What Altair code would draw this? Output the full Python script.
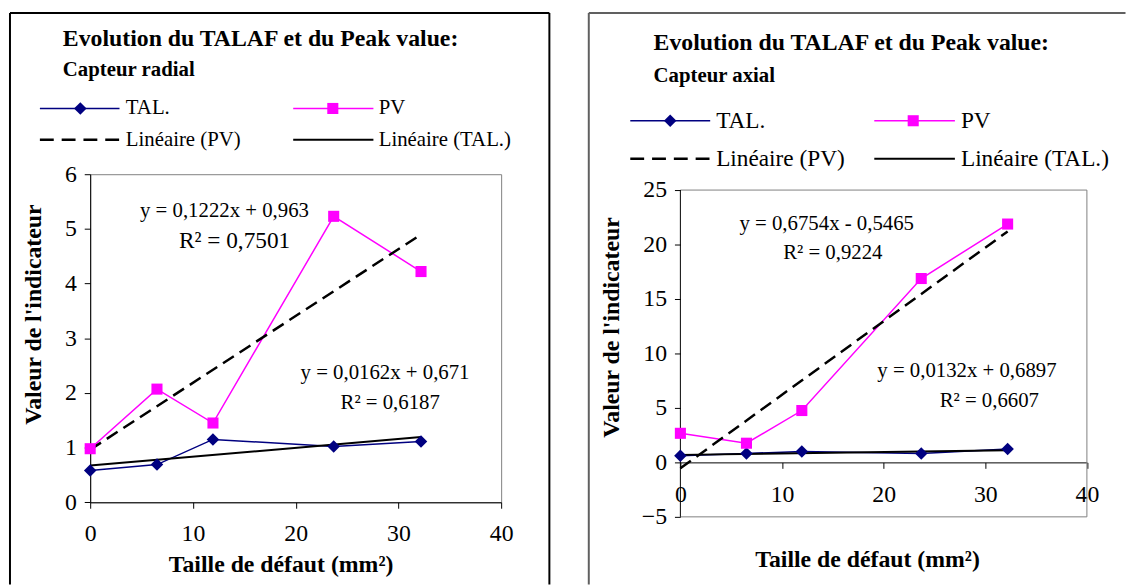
import altair as alt
import pandas as pd

FONT = "Liberation Serif"
NAVY = "#000080"
MAGENTA = "#FF00FF"
GRAY = "#808080"

# ---------------- data ----------------
defect_size = [0, 6.5, 11.95, 23.7, 32.2]

radial_tal = [0.58, 0.69, 1.15, 1.02, 1.11]
radial_pv = [0.98, 2.07, 1.45, 5.23, 4.22]

axial_tal = [0.61, 0.82, 1.00, 0.82, 1.22]
axial_pv = [2.67, 1.76, 4.76, 16.88, 21.88]

trend_x = [0, 32.2]
radial_trend_pv = [0.963, 4.898]
radial_trend_tal = [0.671, 1.193]
axial_trend_pv = [-0.547, 21.20]
axial_trend_tal = [0.690, 1.115]

radial_eq_text = ["y = 0,1222x + 0,963", "R² = 0,7501", "y = 0,0162x + 0,671", "R² = 0,6187"]
radial_eq_x = [13.07, 14.05, 28.7, 29.2]
radial_eq_y = [5.32, 4.78, 2.36, 1.82]

axial_eq_text = ["y = 0,6754x - 0,5465", "R² = 0,9224", "y = 0,0132x + 0,6897", "R² = 0,6607"]
axial_eq_x = [14.4, 15.0, 28.2, 30.4]
axial_eq_y = [21.9, 19.25, 8.4, 5.67]

x_ticks = [0, 10, 20, 30, 40]
radial_y_ticks = [0, 1, 2, 3, 4, 5, 6]
axial_y_ticks = [-5, 0, 5, 10, 15, 20, 25]

TITLE = "Evolution du TALAF et du Peak value:"
dummy = pd.DataFrame({"k": [0]})


def txt(s, x, y, size, bold=False, align="left", baseline="alphabetic"):
    return alt.Chart(dummy).mark_text(
        text=s, font=FONT, fontSize=size, fontWeight="bold" if bold else "normal",
        align=align, baseline=baseline, color="black"
    ).encode(x=alt.value(x), y=alt.value(y))


def hline(x1, x2, y, **kw):
    return alt.Chart(dummy).mark_rule(**kw).encode(x=alt.value(x1), x2=alt.value(x2), y=alt.value(y))


def vline(x, y1, y2, **kw):
    return alt.Chart(dummy).mark_rule(**kw).encode(x=alt.value(x), y=alt.value(y1), y2=alt.value(y2))


def marker(x, y, shape, color, size):
    return alt.Chart(dummy).mark_point(
        shape=shape, filled=True, size=size, color=color, opacity=1, strokeWidth=0
    ).encode(x=alt.value(x), y=alt.value(y))


def panel(subtitle, tal, pv, t_pv, t_tal, eq_text, eq_x, eq_y, ydomain, yticks, g):
    W, H, top = g["W"], g["H"], g["top"]      # top = empty band above the plot frame (px)
    full_h = H + top
    y_lo, y_hi = ydomain
    y_top = y_hi + (y_hi - y_lo) * top / H     # scale extended so the plot frame keeps its size
    xs = alt.Scale(domain=[0, 40], nice=False, zero=False)
    ys = alt.Scale(domain=[y_lo, y_top], nice=False, zero=False)
    xaxis = alt.Axis(values=x_ticks, title="Taille de défaut (mm²)", offset=g["xoff"], tickSize=6,
                     labelPadding=g["xlabpad"], labelFlush=False, titleX=g["xtx"], titleY=g["xty"],
                     titleAlign="center", titleBaseline="middle", titleAngle=0)
    yaxis = alt.Axis(values=yticks, title="Valeur de l'indicateur", tickSize=6,
                     labelPadding=g["ylabpad"], titleX=g["ytx"], titleY=g["yty"],
                     titleAlign="center", titleBaseline="middle", titleAngle=270,
                     domain=(top == 0))
    X = alt.X("x:Q", scale=xs, axis=xaxis)
    Y = alt.Y("y:Q", scale=ys, axis=yaxis)

    d_tal = pd.DataFrame({"x": defect_size, "y": tal})
    d_pv = pd.DataFrame({"x": defect_size, "y": pv})
    d_tpv = pd.DataFrame({"x": trend_x, "y": t_pv})
    d_ttal = pd.DataFrame({"x": trend_x, "y": t_tal})
    d_eq = pd.DataFrame({"x": eq_x, "y": eq_y, "t": eq_text})

    layers = []
    if top > 0:
        # plot-area frame drawn by hand (grey top/right/bottom, black y axis line)
        layers += [
            hline(0, W, top, color=GRAY, strokeWidth=1),
            hline(0, W, full_h, color=GRAY, strokeWidth=1),
            vline(W, top, full_h, color=GRAY, strokeWidth=1),
            vline(0, top, full_h, color="black", strokeWidth=1),
        ]
    layers += [
        alt.Chart(d_tal).mark_line(color=NAVY, strokeWidth=1.5).encode(x=X, y=Y),
        alt.Chart(d_pv).mark_line(color=MAGENTA, strokeWidth=1.5).encode(x=X, y=Y),
        alt.Chart(d_tpv).mark_line(color="black", strokeWidth=2.5, strokeDash=[13, 7]).encode(x=X, y=Y),
        alt.Chart(d_ttal).mark_line(color="black", strokeWidth=2).encode(x=X, y=Y),
        alt.Chart(d_tal).mark_point(shape="diamond", filled=True, size=160, color=NAVY, opacity=1).encode(x=X, y=Y),
        alt.Chart(d_pv).mark_point(shape="square", filled=True, size=125, color=MAGENTA, opacity=1).encode(x=X, y=Y),
    ]
    for i in range(len(eq_text)):
        layers.append(
            alt.Chart(d_eq.iloc[[i]]).mark_text(font=FONT, fontSize=g["eqsize"][i], color="black",
                                                align="center", baseline="middle")
            .encode(x=X, y=Y, text="t:N")
        )

    # titles
    layers.append(txt(TITLE, g["tx"], g["ty"], 24, bold=True))
    layers.append(txt(subtitle, g["tx"], g["sy"], 21, bold=True))

    # legend
    r1, r2 = g["r1"], g["r2"]
    (a1, b1, m1, t1), (a2, b2, m2, t2) = g["c1"], g["c2"]
    ls = g["lsize"]
    layers += [
        hline(a1, b1, r1, color=NAVY, strokeWidth=1.5),
        marker(m1, r1, "diamond", NAVY, 160),
        txt("TAL.", t1, r1, ls, baseline="middle"),
        hline(a2, b2, r1, color=MAGENTA, strokeWidth=1.5),
        marker(m2, r1, "square", MAGENTA, 125),
        txt("PV", t2, r1, ls, baseline="middle"),
        hline(a1, b1, r2, color="black", strokeWidth=2.5, strokeDash=[14, 8]),
        txt("Linéaire (PV)", t1, r2, ls, baseline="middle"),
        hline(a2, b2, r2, color="black", strokeWidth=2),
        txt("Linéaire (TAL.)", t2, r2, ls, baseline="middle"),
    ]

    # outer frame
    fl, fr, ft, fb = g["frame"]
    fc, fw = g["framecolor"], g["framewidth"]
    layers.append(hline(fl, fr, ft, color=fc, strokeWidth=fw))
    layers.append(vline(fl, ft, fb, color=fc, strokeWidth=fw))
    if g["rightside"]:
        layers.append(vline(fr, ft, fb, color=fc, strokeWidth=fw))

    ch = alt.layer(*layers).properties(width=W, height=full_h)
    if top > 0:
        ch = ch.properties(view=alt.ViewBackground(stroke="transparent"))
    return ch


left_geom = dict(
    W=415, H=331.3, top=0, xoff=0, xlabpad=14, ylabpad=8,
    xtx=192.3, xty=63, ytx=-57, yty=141.3,
    tx=-27.6, ty=-129.7, sy=-99,
    r1=-66.4, r2=-34.7, c1=(-50.8, 29.6, -10, 36), c2=(205, 286, 245, 291.4), lsize=21,
    eqsize=[21, 23.5, 21, 21],
    frame=(-81, 463.7, -162.7, 414.3), rightside=True, framecolor="black", framewidth=2,
)

# right panel: plot frame starts 16 px lower than the left one
right_geom = dict(
    W=410.5, H=330, top=16, xoff=-55, xlabpad=14, ylabpad=8,
    xtx=188.5, xty=98.3, ytx=-69.5, yty=154.3,
    tx=-27.1, ty=-125.7, sy=-93.4,
    r1=-54, r2=-15.7, c1=(-50.6, 30.1, -10.3, 36.1), c2=(195.8, 277.2, 235.1, 283.3), lsize=23.5,
    eqsize=[21, 21, 21, 21],
    frame=(-92.5, 449.5, -162.7, 414.3), rightside=False, framecolor="#606060", framewidth=2,
)

left = panel("Capteur radial", radial_tal, radial_pv, radial_trend_pv, radial_trend_tal,
             radial_eq_text, radial_eq_x, radial_eq_y, [0, 6], radial_y_ticks, left_geom)
right = panel("Capteur axial", axial_tal, axial_pv, axial_trend_pv, axial_trend_tal,
              axial_eq_text, axial_eq_x, axial_eq_y, [-5, 25], axial_y_ticks, right_geom)

chart = (
    alt.hconcat(left, right, spacing=36)
    .properties(padding=0, background="white")
    .configure_view(stroke=GRAY, strokeWidth=1)
    .configure_axis(
        labelFont=FONT, labelFontSize=24, labelColor="black",
        titleFont=FONT, titleFontSize=24, titleFontWeight="bold", titleColor="black",
        domainColor="black", tickColor="black", domainWidth=1, tickWidth=1, grid=False,
    )
)

chart.save("out.html", embed_options={"renderer": "svg", "actions": False})
